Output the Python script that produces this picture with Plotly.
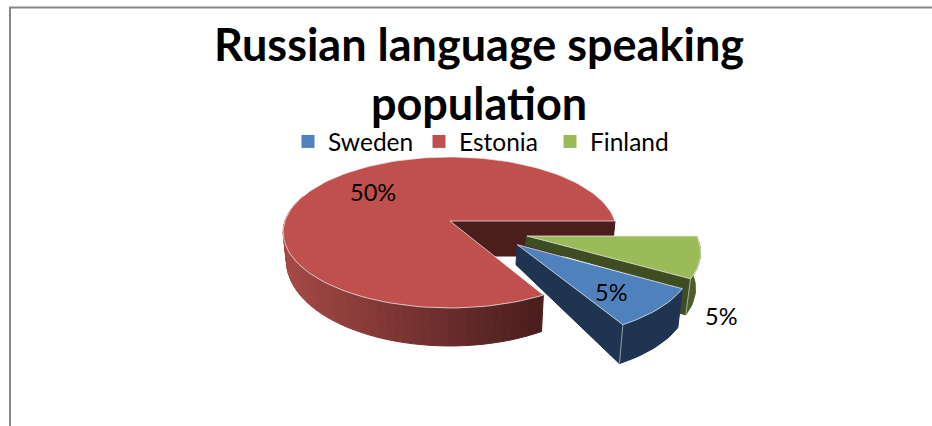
import math
import plotly.graph_objects as go

# ---- data ----
categories = ["Sweden", "Estonia", "Finland"]
values = [5, 50, 5]
top_colors = ["#4F81BD", "#C0504D", "#9BBB59"]
title_text = "Russian language speaking<br>population"

# ---- view parameters for the tilted, exploded pie ----
WIDTH, HEIGHT = 932, 426
CX, CY, R, RY, PERSP = 450, 221, 165, 75.5, 0.152
FIRST_ANGLE = -30
explode = {"Sweden": (0.39, 0.30), "Estonia": (0, 0), "Finland": (0.453, 0.193)}
rim_colors = {"Sweden": "#1E3450", "Finland": "#4C5F28"}
inner_colors = {"Sweden": "#1E3450", "Estonia": "#4B1E1D", "Finland": "#3F4D23"}
inner_depth = {"Sweden": (20, 39), "Estonia": (35, 35), "Finland": (9, 11)}
rim_depth = {"Sweden": 39, "Finland": 36}
label_pos = {"Sweden": (611, 292), "Estonia": (373, 192), "Finland": (721, 316)}


def project(X, Y):
    s = 1 + PERSP * Y
    return CX + X * R * s, CY + Y * RY * s


def drop(pt, d):
    return pt[0] - 0.02 * (pt[0] - CX), pt[1] + d


def rim_point(off, a):
    return project(off[0] + math.cos(a), off[1] - math.sin(a))


def along(p, q, t):
    return p[0] + (q[0] - p[0]) * t, p[1] + (q[1] - p[1]) * t


def poly(fig, pts, color, line=None, width=1):
    fig.add_trace(go.Scatter(
        x=[p[0] for p in pts] + [pts[0][0]], y=[p[1] for p in pts] + [pts[0][1]],
        mode="lines", fill="toself", fillcolor=color,
        line=dict(color=line or color, width=width),
        hoverinfo="skip", showlegend=False))


def mix(c0, c1, t):
    return "rgb(%d,%d,%d)" % tuple(c0[i] + (c1[i] - c0[i]) * t for i in range(3))


fig = go.Figure()
total = sum(values)
spans = {}
cur = FIRST_ANGLE
for name, v in zip(categories, values):
    next_ang = cur - v / total * 360
    spans[name] = (cur, next_ang)
    cur = next_ang


def arc(name, a0, a1, step=2.0):
    n = max(2, int(abs(a1 - a0) / step))
    return [rim_point(explode[name], math.radians(a0 + (a1 - a0) * i / n)) for i in range(n + 1)]


HILITE = "rgba(235,235,235,0.75)"

# Estonia: back wall, graded rim, top
a0, a1 = spans["Estonia"]
corner = rim_point((0, 0), math.radians(a1))
poly(fig, [project(0, 0), corner, drop(corner, 35), drop(project(0, 0), 35)], inner_colors["Estonia"])
# rim runs from the front-right corner round to the left silhouette
start = a0
stop = -200.0
N = 50
for i in range(N):
    b0 = math.radians(start + (stop - start) * i / N)
    b1 = math.radians(start + (stop - start) * (i + 1) / N)
    p0, p1 = rim_point((0, 0), b0), rim_point((0, 0), b1)
    d0 = 27 + 11 * max(-1, -math.sin(b0))
    d1 = 27 + 11 * max(-1, -math.sin(b1))
    t = min(1, max(0, (538 - p0[0]) / (538 - 283)))
    poly(fig, [p0, p1, drop(p1, d1), drop(p0, d0)], mix((76, 31, 30), (166, 74, 71), t))
top = [project(0, 0)] + arc("Estonia", a0, a1)
poly(fig, top, top_colors[1], HILITE, 1)

# Exploded slices: Finland first, Sweden in front of it
for name in ["Finland", "Sweden"]:
    a0, a1 = spans[name]
    off = explode[name]
    apex = project(*off)
    near_ang = min(a0, a1)
    c = rim_point(off, math.radians(near_ang))
    d_apex, d_corner = inner_depth[name]
    d = rim_depth[name]
    if name == "Finland":
        # the wall is only a thin band until it passes behind Sweden, then drops to the full depth
        wall = [apex, c, drop(c, d),
                drop(along(apex, c, 0.95), d),
                drop(along(apex, c, 0.93), d_corner),
                drop(apex, d_apex)]
    else:
        wall = [apex, c, drop(c, d_corner), drop(apex, d_apex)]
    poly(fig, wall, inner_colors[name])
    pts = arc(name, a0, a1)
    poly(fig, pts + [drop(p, d) for p in reversed(pts)], rim_colors[name])
    fig.add_trace(go.Scatter(x=[c[0], drop(c, d)[0]], y=[c[1], drop(c, d)[1]], mode="lines",
                             line=dict(color="rgba(200,205,210,0.7)", width=1),
                             hoverinfo="skip", showlegend=False))
    poly(fig, [apex] + pts, top_colors[categories.index(name)], HILITE, 1)

# Legend entries
for name, col in zip(categories, top_colors):
    fig.add_trace(go.Scatter(x=[None], y=[None], mode="markers", name=name,
                             marker=dict(symbol="square", size=13, color=col)))

# Data labels
for name, v in zip(categories, values):
    x, y = label_pos[name]
    fig.add_annotation(x=x, y=y, text=f"{v}%", showarrow=False,
                       font=dict(family="Lato", size=23.5, color="#000000"))

# Frame: left and top edges only are in view
fig.add_shape(type="line", x0=10, x1=10, y0=7, y1=426, line=dict(color="#868686", width=2))
fig.add_shape(type="line", x0=9, x1=932, y0=7.5, y1=7.5, line=dict(color="#868686", width=2))

fig.update_layout(
    width=WIDTH, height=HEIGHT, autosize=False,
    margin=dict(l=0, r=0, t=0, b=0),
    paper_bgcolor="white", plot_bgcolor="white",
    font=dict(family="Lato", color="#000000"),
    title=dict(text=title_text, x=479 / WIDTH, xanchor="center", y=1 - 61 / HEIGHT, yanchor="top",
               font=dict(family="Lato", size=45, color="#000000", weight="bold")),
    xaxis=dict(range=[0, WIDTH], visible=False, fixedrange=True),
    yaxis=dict(range=[HEIGHT, 0], visible=False, fixedrange=True),
    legend=dict(orientation="h", x=288 / WIDTH, xanchor="left", y=1 - 119 / HEIGHT, yanchor="top",
                font=dict(family="Lato", size=24.5, color="#000000"),
                entrywidth=86, entrywidthmode="pixels", bgcolor="rgba(0,0,0,0)",
                itemclick=False, itemdoubleclick=False, tracegroupgap=0),
    hovermode=False,
)
fig.write_html("out.html", config={"displayModeBar": False},
               post_script="document.body.style.margin='0';document.documentElement.style.overflow='hidden';")
